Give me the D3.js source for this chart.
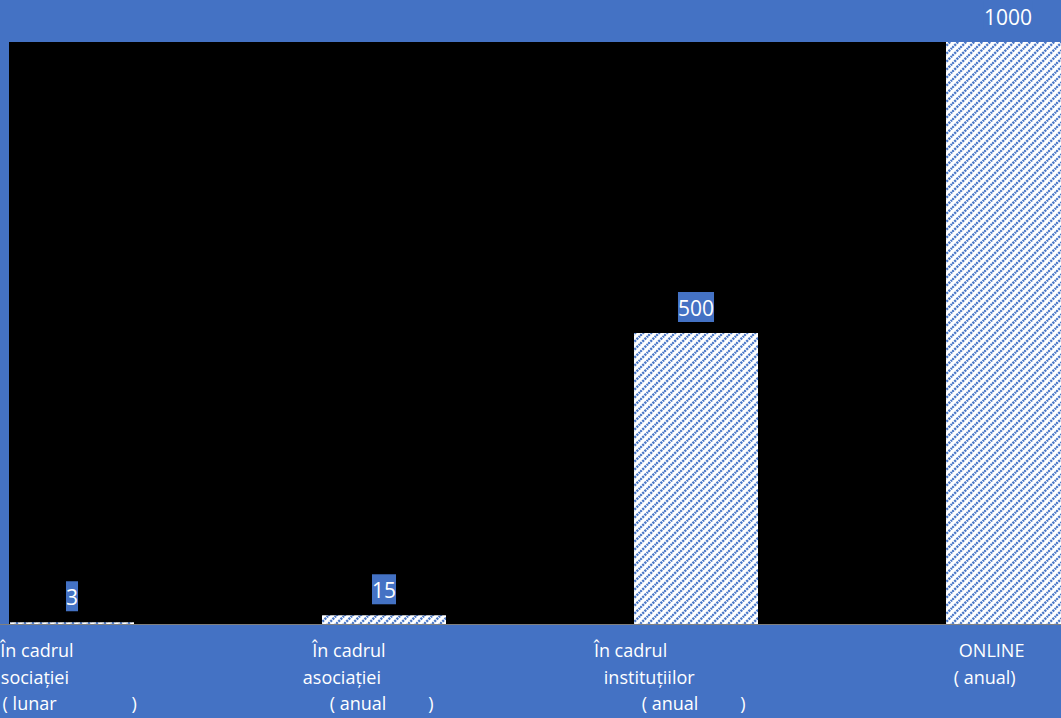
<!DOCTYPE html>
<html><head><meta charset="utf-8">
<script src="https://cdn.jsdelivr.net/npm/d3@7"></script>
<style>
body{margin:0;background:#4472C4;overflow:hidden;}
text{font-family:"Open Sans",sans-serif;}
</style>
</head><body>
<svg id="chart" width="1061" height="718"></svg>
<script>
const categories = ["asociatie_lunar", "asociatie_anual", "institutii_anual", "online_anual"];
const values = [3, 15, 500, 1000];
const valueLabels = ["3", "15", "500", "1000"];
const S = "\u00a0";
const categoryLines = [
  ["În cadrul" + S.repeat(15), "asociației" + S.repeat(18), "( lunar" + S.repeat(16) + ")" + S],
  ["În cadrul" + S.repeat(15), "asociației" + S.repeat(18), "( anual" + S.repeat(9) + ")" + S],
  ["În cadrul" + S.repeat(28), "instituțiilor" + S.repeat(20), "( anual" + S.repeat(9) + ")" + S],
  ["ONLINE" + S.repeat(7), "( anual)" + S.repeat(10)]
];
const yDomain = [0, 1000];

const W = 1061, H = 718;
const plot = {left: 9, top: 42, right: 1061, bottom: 624};
const blue = "#4472C4";

const svg = d3.select("#chart");
svg.append("rect").attr("width", W).attr("height", H).attr("fill", blue);

const defs = svg.append("defs");
const P = 8;
const pat = defs.append("pattern").attr("id", "hatch")
  .attr("patternUnits", "userSpaceOnUse").attr("width", P).attr("height", P);
pat.append("rect").attr("width", P).attr("height", P).attr("fill", "#ffffff");
pat.append("path").attr("d", `M-2,${P + 2} L${P + 2},-2 M-${P / 2 + 2},${P / 2 + 2} L${P / 2 + 2},-${P / 2 + 2} M${P / 2 - 2},${P + P / 2 + 2} L${P + P / 2 + 2},${P / 2 - 2}`)
  .attr("stroke", "#4a78c8").attr("stroke-width", 2.4).attr("stroke-dasharray", "2.2,0.9");

svg.append("rect").attr("x", plot.left).attr("y", plot.top)
  .attr("width", plot.right - plot.left).attr("height", plot.bottom - plot.top)
  .attr("fill", "#000000");

const x = d3.scaleBand().domain(categories).range([-84, 1164])
  .paddingInner(0.6026).paddingOuter(0.3013);
const y = d3.scaleLinear().domain(yDomain).range([plot.bottom, plot.top]);

// axis
const axis = svg.append("g").attr("transform", `translate(0,${plot.bottom})`)
  .call(d3.axisBottom(x).tickSize(0).tickFormat(""));
axis.select(".domain").attr("stroke", "#7f7f7f").attr("stroke-width", 1);

// bars
svg.append("g").selectAll("rect").data(values).join("rect")
  .attr("x", (d, i) => x(categories[i]))
  .attr("width", x.bandwidth())
  .attr("y", d => y(d))
  .attr("height", d => y(0) - y(d))
  .attr("fill", "url(#hatch)");

// value labels
const lab = svg.append("g").selectAll("g").data(values).join("g");
lab.each(function(d, i) {
  const g = d3.select(this);
  const cx = x(categories[i]) + x.bandwidth() / 2;
  const by = y(d) - 17;
  const r = g.append("rect").attr("fill", blue);
  const t = g.append("text").attr("x", cx).attr("y", by)
    .attr("text-anchor", "middle").attr("fill", "#ffffff")
    .attr("font-size", 21).text(valueLabels[i]);
  const bb = t.node().getBBox();
  r.attr("x", bb.x).attr("width", bb.width).attr("y", by - 24).attr("height", 30);
});

// category labels
const cl = svg.append("g").selectAll("text").data(categories).join("text")
  .attr("fill", "#ffffff").attr("font-size", 18).attr("text-anchor", "middle")
  .style("white-space", "pre");
cl.each(function(c, i) {
  const t = d3.select(this);
  const cx = x(c) + x.bandwidth() / 2;
  categoryLines[i].forEach((line, j) => {
    t.append("tspan").attr("x", cx).attr("y", 657 + j * 26.5).text(line);
  });
});
</script>
</body></html>
